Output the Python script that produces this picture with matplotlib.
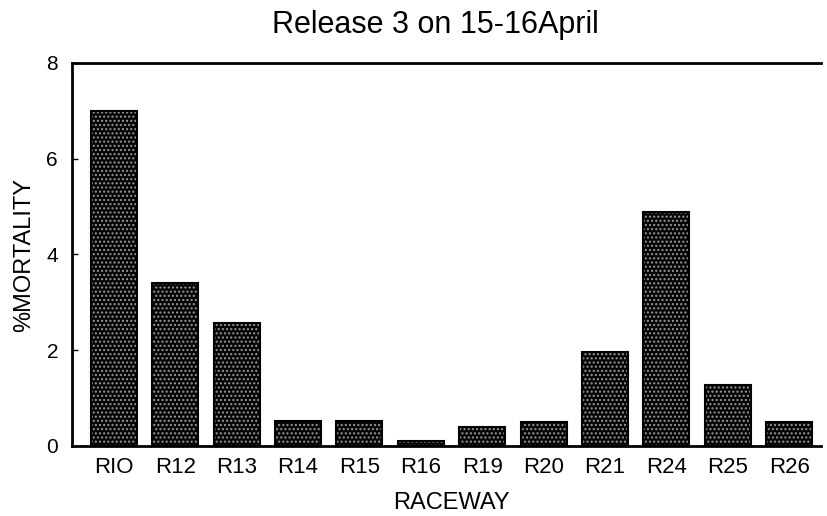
import matplotlib
matplotlib.use("Agg")
import matplotlib.pyplot as plt
import numpy as np

raceways = ["RIO", "R12", "R13", "R14", "R15", "R16", "R19", "R20", "R21", "R24", "R25", "R26"]
mortality = [7.0, 3.4, 2.57, 0.52, 0.52, 0.1, 0.4, 0.5, 1.96, 4.88, 1.27, 0.5]
yticks = [0, 2, 4, 6, 8]

plt.rcParams['font.family'] = ['Liberation Sans', 'DejaVu Sans']

fig = plt.figure(figsize=(8.27, 5.16), dpi=100)
ax = fig.add_axes([0.087, 0.1357, 0.906, 0.7423])

x = np.arange(len(raceways))
ax.bar(x, mortality, width=0.75, color='#050505', edgecolor='#9a9a9a',
       hatch='....', linewidth=0, zorder=2)
ax.bar(x, mortality, width=0.75, fill=False, edgecolor='black',
       linewidth=1.5, zorder=3)

ax.set_xlim(-0.68, 11.52)
ax.set_ylim(0, 8)
ax.set_yticks(yticks)
ax.set_yticklabels([str(v) for v in yticks], fontsize=15)
ax.set_xticks(x)
ax.set_xticklabels(raceways, fontsize=16)
ax.tick_params(axis='y', direction='in', length=4, width=1, pad=10)
ax.tick_params(axis='x', length=0, pad=8)

for s in ['left', 'bottom', 'top']:
    ax.spines[s].set_linewidth(2)
    ax.spines[s].set_color('black')
ax.spines['right'].set_visible(False)

fig.text(451 / 827, 1 - 503 / 516, "RACEWAY", ha='center', va='center', fontsize=17)
fig.text(24 / 827, 1 - 255 / 516, "%MORTALITY", ha='center', va='center',
         fontsize=17, rotation=90)
fig.text(435 / 827, 1 - 25 / 516, "Release 3 on 15-16April", ha='center', va='center', fontsize=22)

fig.savefig("out.png", dpi=100)
